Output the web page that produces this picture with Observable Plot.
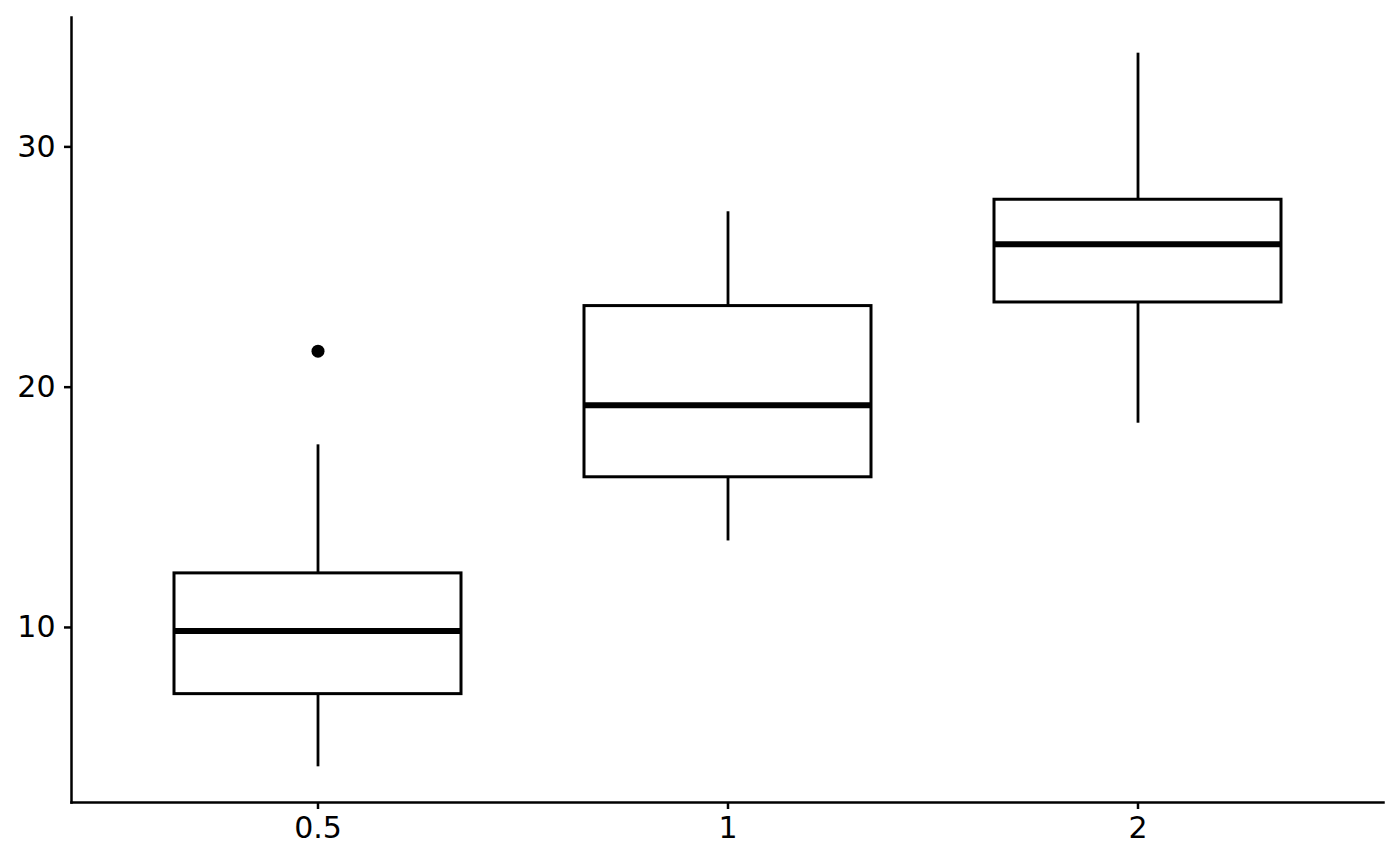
<!DOCTYPE html>
<html>
<head>
<meta charset="utf-8">
<script src="https://cdn.jsdelivr.net/npm/d3@7"></script>
<script src="https://cdn.jsdelivr.net/npm/@observablehq/plot@0.6"></script>
<style>
  body { margin: 0; background: white; }
</style>
</head>
<body>
<div id="chart"></div>
<script>
// box stats per dose (tooth length)
const doses = ["0.5", "1", "2"];
const lowerWhisker = [4.2, 13.6, 18.5];
const q1 = [7.225, 16.25, 23.525];
const medians = [9.85, 19.25, 25.95];
const q3 = [12.25, 23.375, 27.8];
const upperWhisker = [17.6, 27.3, 33.9];
const outlierDose = ["0.5"];
const outlierLen = [21.5];
const yTicks = [10, 20, 30];

const boxes = doses.map((d, i) => ({
  dose: d,
  lo: lowerWhisker[i],
  q1: q1[i],
  med: medians[i],
  q3: q3[i],
  hi: upperWhisker[i]
}));
const outliers = outlierDose.map((d, i) => ({dose: d, len: outlierLen[i]}));

let chart = Plot.plot({
  width: 1400,
  height: 866,
  marginLeft: 71,
  marginRight: 17,
  marginTop: 17,
  marginBottom: 64,
  x: {
    type: "band",
    domain: doses,
    paddingInner: 0.3,
    paddingOuter: 0.25,
    label: null
  },
  y: {
    domain: [2.715, 35.385],
    label: null
  },
  marks: [
    Plot.ruleX(boxes, {x: "dose", y1: "lo", y2: "q1", strokeWidth: 2.8}),
    Plot.ruleX(boxes, {x: "dose", y1: "q3", y2: "hi", strokeWidth: 2.8}),
    Plot.barY(boxes, {x: "dose", y1: "q1", y2: "q3", fill: "white", stroke: "black", strokeWidth: 3}),
    Plot.tickY(boxes, {x: "dose", y: "med", stroke: "black", strokeWidth: 6}),
    Plot.dot(outliers, {x: "dose", y: "len", r: 6.5, fill: "black", stroke: null}),
    Plot.axisX({tickSize: 7, tickPadding: 7, fontSize: 30, strokeWidth: 2.5, label: null}),
    Plot.axisY({ticks: yTicks, tickSize: 7, tickPadding: 9, fontSize: 30, strokeWidth: 2.5, label: null}),
    Plot.frame({anchor: "left", strokeWidth: 2.5}),
    Plot.frame({anchor: "bottom", strokeWidth: 2.5})
  ],
  style: {
    fontFamily: "'DejaVu Sans', sans-serif",
    fontSize: 30,
    background: "white",
    color: "black",
    overflow: "visible"
  }
});
d3.select("#chart").append(() => chart);
</script>
</body>
</html>
